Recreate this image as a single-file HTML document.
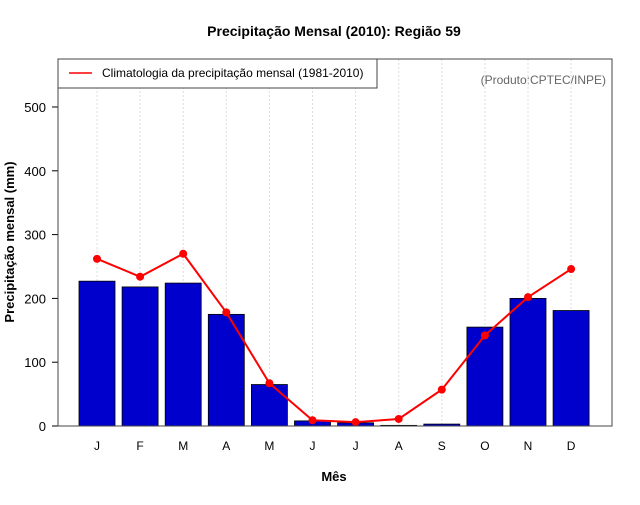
<!DOCTYPE html>
<html><head><meta charset="utf-8"><style>
body{margin:0;background:#fff;font-family:"Liberation Sans",Arial,sans-serif}
</style></head><body>
<svg id="chart" width="640" height="500" xmlns="http://www.w3.org/2000/svg" font-family="Liberation Sans, Arial, sans-serif">
<text x="334" y="36" text-anchor="middle" font-size="14" font-weight="bold">Precipitação Mensal (2010): Região 59</text>
<text x="606" y="84" text-anchor="end" font-size="12" fill="#666">(Produto:CPTEC/INPE)</text>
<text transform="translate(14,242) rotate(-90)" text-anchor="middle" font-size="13" font-weight="bold">Precipitação mensal (mm)</text>
<text x="334" y="481" text-anchor="middle" font-size="13" font-weight="bold">Mês</text>
<g id="grid"></g><g id="bars"></g><g id="axes"></g><g id="line"></g>
<rect x="58" y="59" width="554" height="367" fill="none" stroke="#444"/>
<g>
<rect x="58" y="59" width="319" height="29" fill="#fff" stroke="#444"/>
<line x1="69" y1="73" x2="92" y2="73" stroke="red" stroke-width="1.5"/>
<text x="102" y="77" font-size="12">Climatologia da precipitação mensal (1981-2010)</text>
</g>
</svg>
<script>
const months=["J","F","M","A","M","J","J","A","S","O","N","D"];
const observed=[227,218,224,175,65,8,5,1,3,155,200,181];
const climatology=[262,234,270,178,67,9,6,11,57,142,202,246];
const yTicks=[0,100,200,300,400,500];
const NS="http://www.w3.org/2000/svg";
const x=i=>97+i*43.1;
const y=v=>426-v*0.638;
function mk(t,a,p){const e=document.createElementNS(NS,t);for(const k in a)e.setAttribute(k,a[k]);p.appendChild(e);return e;}
const grid=document.getElementById('grid'),bars=document.getElementById('bars'),axes=document.getElementById('axes'),line=document.getElementById('line');
months.forEach((m,i)=>{
 const g=mk('line',{x1:x(i),x2:x(i),y1:59,y2:426,stroke:'#ddd','stroke-dasharray':'2,2'},grid);
 
 
 const b=mk('rect',{x:x(i)-18,y:y(observed[i]),width:36,height:observed[i]*0.638,fill:'#0000cc',stroke:'#000','stroke-width':0.8},bars);
 
 
 const t=mk('text',{x:x(i),y:450,'text-anchor':'middle','font-size':12},axes);t.textContent=m;
 
 
});
yTicks.forEach(v=>{
 mk('line',{x1:52,x2:58,y1:y(v),y2:y(v),stroke:'#000'},axes);
 const t=mk('text',{x:46,y:y(v)+5,'text-anchor':'end','font-size':13},axes);t.textContent=v;
 
 
});
const pl=mk('polyline',{points:climatology.map((v,i)=>x(i)+','+y(v)).join(' '),fill:'none',stroke:'red','stroke-width':2},line);


climatology.forEach((v,i)=>{
 const c=mk('circle',{cx:x(i),cy:y(v),r:4,fill:'red'},line);
 
 
});
</script>
</body></html>
